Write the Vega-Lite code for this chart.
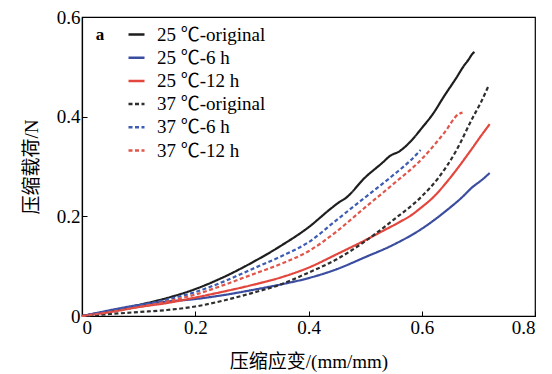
{
  "$schema": "https://vega.github.io/schema/vega-lite/v6.json",
  "width": 453,
  "height": 299,
  "autosize": {"type": "none"},
  "padding": {"left": 82, "top": 17, "right": 17, "bottom": 58},
  "background": "white",
  "config": {
    "view": {"stroke": "black", "strokeWidth": 1.2},
    "axis": {
      "grid": false,
      "domainColor": "black",
      "domainWidth": 1.2,
      "tickColor": "black",
      "tickSize": -5,
      "labelFont": "Liberation Serif, Times New Roman, serif",
      "labelFontSize": 19,
      "labelColor": "black",
      "labelPadding": 7,
      "titleFont": "Liberation Serif, Noto Sans CJK SC, serif",
      "titleFontSize": 19,
      "titleFontWeight": "normal",
      "titleColor": "black"
    },
    "legend": {
      "orient": "none",
      "legendX": 45,
      "legendY": 8,
      "symbolType": "stroke",
      "symbolSize": 256,
      "symbolStrokeWidth": 2.5,
      "labelFont": "Liberation Serif, Noto Sans CJK SC, serif",
      "labelFontSize": 19,
      "labelColor": "black",
      "labelOffset": 11,
      "rowPadding": 3.2,
      "padding": 0
    }
  },
  "datasets": {
    "curves": [
      {"s":"25 ℃-original","x":0,"y":0},{"s":"25 ℃-original","x":0.03,"y":0.006},{"s":"25 ℃-original","x":0.06,"y":0.012},{"s":"25 ℃-original","x":0.1,"y":0.022},{"s":"25 ℃-original","x":0.15,"y":0.036},{"s":"25 ℃-original","x":0.2,"y":0.054},{"s":"25 ℃-original","x":0.25,"y":0.078},{"s":"25 ℃-original","x":0.3,"y":0.107},{"s":"25 ℃-original","x":0.35,"y":0.14},{"s":"25 ℃-original","x":0.4,"y":0.178},{"s":"25 ℃-original","x":0.44,"y":0.216},{"s":"25 ℃-original","x":0.455,"y":0.229},{"s":"25 ℃-original","x":0.465,"y":0.236},{"s":"25 ℃-original","x":0.5,"y":0.278},{"s":"25 ℃-original","x":0.53,"y":0.307},{"s":"25 ℃-original","x":0.545,"y":0.322},{"s":"25 ℃-original","x":0.56,"y":0.33},{"s":"25 ℃-original","x":0.58,"y":0.35},{"s":"25 ℃-original","x":0.6,"y":0.377},{"s":"25 ℃-original","x":0.62,"y":0.406},{"s":"25 ℃-original","x":0.64,"y":0.442},{"s":"25 ℃-original","x":0.66,"y":0.476},{"s":"25 ℃-original","x":0.675,"y":0.503},{"s":"25 ℃-original","x":0.683,"y":0.515},{"s":"25 ℃-original","x":0.688,"y":0.524},{"s":"25 ℃-original","x":0.693,"y":0.53},
      {"s":"25 ℃-6 h","x":0,"y":0},{"s":"25 ℃-6 h","x":0.03,"y":0.007},{"s":"25 ℃-6 h","x":0.06,"y":0.014},{"s":"25 ℃-6 h","x":0.1,"y":0.022},{"s":"25 ℃-6 h","x":0.15,"y":0.029},{"s":"25 ℃-6 h","x":0.2,"y":0.034},{"s":"25 ℃-6 h","x":0.25,"y":0.042},{"s":"25 ℃-6 h","x":0.3,"y":0.052},{"s":"25 ℃-6 h","x":0.35,"y":0.063},{"s":"25 ℃-6 h","x":0.4,"y":0.076},{"s":"25 ℃-6 h","x":0.45,"y":0.094},{"s":"25 ℃-6 h","x":0.5,"y":0.118},{"s":"25 ℃-6 h","x":0.55,"y":0.143},{"s":"25 ℃-6 h","x":0.6,"y":0.175},{"s":"25 ℃-6 h","x":0.645,"y":0.213},{"s":"25 ℃-6 h","x":0.67,"y":0.237},{"s":"25 ℃-6 h","x":0.69,"y":0.259},{"s":"25 ℃-6 h","x":0.705,"y":0.272},{"s":"25 ℃-6 h","x":0.72,"y":0.287},
      {"s":"25 ℃-12 h","x":0,"y":0},{"s":"25 ℃-12 h","x":0.05,"y":0.008},{"s":"25 ℃-12 h","x":0.1,"y":0.018},{"s":"25 ℃-12 h","x":0.15,"y":0.026},{"s":"25 ℃-12 h","x":0.2,"y":0.037},{"s":"25 ℃-12 h","x":0.25,"y":0.049},{"s":"25 ℃-12 h","x":0.3,"y":0.062},{"s":"25 ℃-12 h","x":0.35,"y":0.077},{"s":"25 ℃-12 h","x":0.4,"y":0.097},{"s":"25 ℃-12 h","x":0.45,"y":0.124},{"s":"25 ℃-12 h","x":0.5,"y":0.152},{"s":"25 ℃-12 h","x":0.53,"y":0.17},{"s":"25 ℃-12 h","x":0.56,"y":0.188},{"s":"25 ℃-12 h","x":0.585,"y":0.205},{"s":"25 ℃-12 h","x":0.595,"y":0.214},{"s":"25 ℃-12 h","x":0.62,"y":0.238},{"s":"25 ℃-12 h","x":0.65,"y":0.277},{"s":"25 ℃-12 h","x":0.685,"y":0.33},{"s":"25 ℃-12 h","x":0.705,"y":0.362},{"s":"25 ℃-12 h","x":0.72,"y":0.385},
      {"s":"37 ℃-original","x":0,"y":0},{"s":"37 ℃-original","x":0.05,"y":0.004},{"s":"37 ℃-original","x":0.1,"y":0.008},{"s":"37 ℃-original","x":0.15,"y":0.012},{"s":"37 ℃-original","x":0.2,"y":0.019},{"s":"37 ℃-original","x":0.25,"y":0.031},{"s":"37 ℃-original","x":0.3,"y":0.046},{"s":"37 ℃-original","x":0.35,"y":0.063},{"s":"37 ℃-original","x":0.4,"y":0.087},{"s":"37 ℃-original","x":0.45,"y":0.114},{"s":"37 ℃-original","x":0.5,"y":0.15},{"s":"37 ℃-original","x":0.55,"y":0.193},{"s":"37 ℃-original","x":0.6,"y":0.24},{"s":"37 ℃-original","x":0.63,"y":0.278},{"s":"37 ℃-original","x":0.66,"y":0.33},{"s":"37 ℃-original","x":0.69,"y":0.398},{"s":"37 ℃-original","x":0.705,"y":0.43},{"s":"37 ℃-original","x":0.718,"y":0.462},
      {"s":"37 ℃-6 h","x":0,"y":0},{"s":"37 ℃-6 h","x":0.05,"y":0.01},{"s":"37 ℃-6 h","x":0.1,"y":0.021},{"s":"37 ℃-6 h","x":0.15,"y":0.033},{"s":"37 ℃-6 h","x":0.2,"y":0.048},{"s":"37 ℃-6 h","x":0.25,"y":0.069},{"s":"37 ℃-6 h","x":0.3,"y":0.094},{"s":"37 ℃-6 h","x":0.35,"y":0.119},{"s":"37 ℃-6 h","x":0.4,"y":0.148},{"s":"37 ℃-6 h","x":0.45,"y":0.193},{"s":"37 ℃-6 h","x":0.5,"y":0.238},{"s":"37 ℃-6 h","x":0.55,"y":0.283},{"s":"37 ℃-6 h","x":0.58,"y":0.312},{"s":"37 ℃-6 h","x":0.598,"y":0.333},
      {"s":"37 ℃-12 h","x":0,"y":0},{"s":"37 ℃-12 h","x":0.05,"y":0.008},{"s":"37 ℃-12 h","x":0.1,"y":0.018},{"s":"37 ℃-12 h","x":0.15,"y":0.029},{"s":"37 ℃-12 h","x":0.2,"y":0.043},{"s":"37 ℃-12 h","x":0.25,"y":0.062},{"s":"37 ℃-12 h","x":0.3,"y":0.083},{"s":"37 ℃-12 h","x":0.35,"y":0.104},{"s":"37 ℃-12 h","x":0.4,"y":0.13},{"s":"37 ℃-12 h","x":0.45,"y":0.17},{"s":"37 ℃-12 h","x":0.5,"y":0.218},{"s":"37 ℃-12 h","x":0.55,"y":0.265},{"s":"37 ℃-12 h","x":0.6,"y":0.315},{"s":"37 ℃-12 h","x":0.64,"y":0.368},{"s":"37 ℃-12 h","x":0.665,"y":0.405},{"s":"37 ℃-12 h","x":0.672,"y":0.408}
    ],
    "label": [{"x": 0.032, "y": 0.564, "t": "a"}]
  },
  "layer": [
    {
      "data": {"name": "curves"},
      "mark": {"type": "line", "strokeWidth": 2.2, "interpolate": "monotone"},
      "encoding": {
        "x": {"field": "x", "type": "quantitative", "scale": {"domain": [0, 0.8], "nice": false},
              "axis": {"values": [0, 0.2, 0.4, 0.6, 0.8], "title": "压缩应变/(mm/mm)", "titlePadding": 15,
                       "labelExpr": "datum.value == 0 ? '0' : format(datum.value, '.1f')"}},
        "y": {"field": "y", "type": "quantitative", "scale": {"domain": [0, 0.6], "nice": false},
              "axis": {"values": [0, 0.2, 0.4, 0.6], "title": "压缩载荷/N", "titlePadding": 15,
                       "labelExpr": "datum.value == 0 ? '0' : format(datum.value, '.1f')"}},
        "color": {"field": "s", "type": "nominal", "title": null,
                  "scale": {"domain": ["25 ℃-original", "25 ℃-6 h", "25 ℃-12 h", "37 ℃-original", "37 ℃-6 h", "37 ℃-12 h"],
                            "range": ["#1e1e1e", "#3a4d9f", "#e2463d", "#2e2e2e", "#3d5cb3", "#e0564b"]}},
        "strokeDash": {"field": "s", "type": "nominal", "title": null,
                  "scale": {"domain": ["25 ℃-original", "25 ℃-6 h", "25 ℃-12 h", "37 ℃-original", "37 ℃-6 h", "37 ℃-12 h"],
                            "range": [[1, 0], [1, 0], [1, 0], [4, 2.5], [4, 2.5], [4, 2.5]]}}
      }
    },
    {
      "data": {"name": "label"},
      "mark": {"type": "text", "font": "Liberation Serif, serif", "fontSize": 17, "fontWeight": "bold", "color": "black", "align": "center", "baseline": "middle"},
      "encoding": {
        "x": {"field": "x", "type": "quantitative"},
        "y": {"field": "y", "type": "quantitative"},
        "text": {"field": "t"}
      }
    }
  ]
}
